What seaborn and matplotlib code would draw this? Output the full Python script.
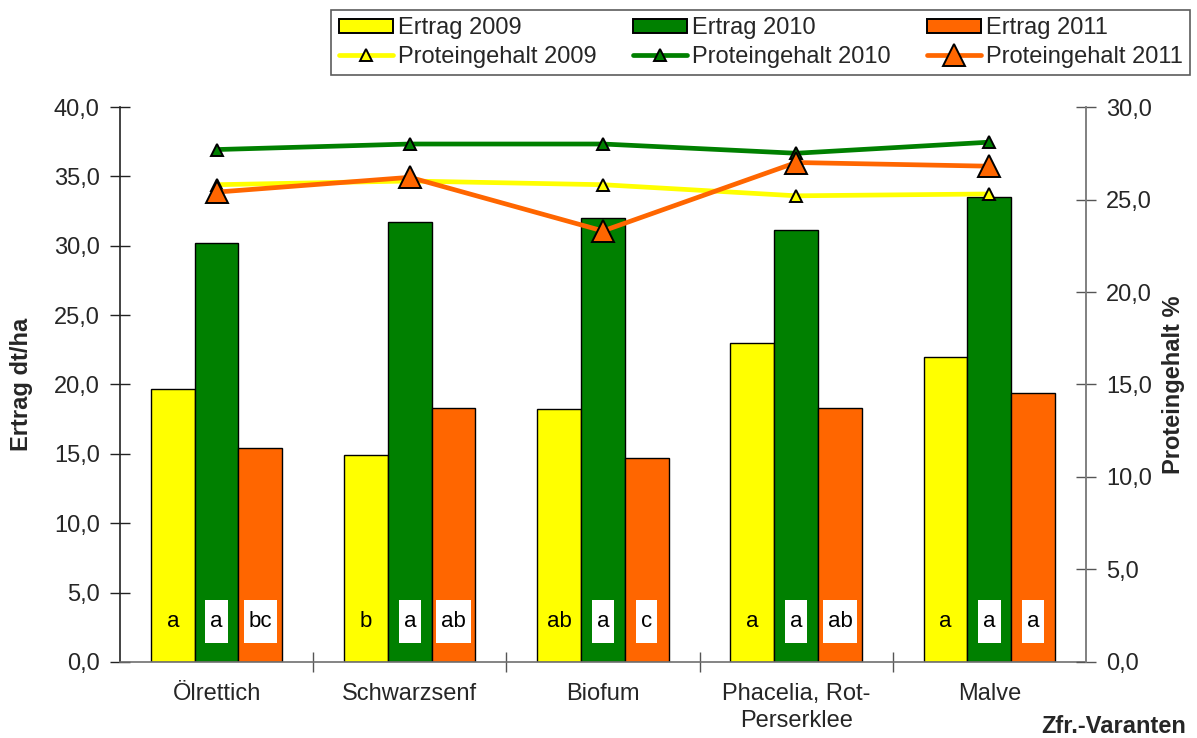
import numpy as np
import pandas as pd
import matplotlib
matplotlib.use("Agg")
import matplotlib.pyplot as plt
from matplotlib.lines import Line2D
from matplotlib.patches import Patch
from matplotlib.path import Path
import seaborn as sns

# --- data -------------------------------------------------------------
varianten = ["Ölrettich", "Schwarzsenf", "Biofum", "Phacelia, Rot-\nPerserklee", "Malve"]
jahre = ["2009", "2010", "2011"]

ertrag_2009 = [19.7, 14.9, 18.2, 23.0, 22.0]
ertrag_2010 = [30.2, 31.7, 32.0, 31.1, 33.5]
ertrag_2011 = [15.4, 18.3, 14.7, 18.3, 19.4]

protein_2009 = [25.8, 26.0, 25.8, 25.2, 25.3]
protein_2010 = [27.7, 28.0, 28.0, 27.5, 28.1]
protein_2011 = [25.4, 26.2, 23.3, 27.0, 26.8]

buchstaben_2009 = ["a", "b", "ab", "a", "a"]
buchstaben_2010 = ["a", "a", "a", "a", "a"]
buchstaben_2011 = ["bc", "ab", "c", "ab", "a"]

farben = {"2009": "#FFFF00", "2010": "#008000", "2011": "#FF6600"}

ertrag = {"2009": ertrag_2009, "2010": ertrag_2010, "2011": ertrag_2011}
protein = {"2009": protein_2009, "2010": protein_2010, "2011": protein_2011}
buchstaben = {"2009": buchstaben_2009, "2010": buchstaben_2010, "2011": buchstaben_2011}

df = pd.DataFrame(
    [(v, j, ertrag[j][i]) for j in jahre for i, v in enumerate(varianten)],
    columns=["Variante", "Jahr", "Ertrag"],
)

# --- style ------------------------------------------------------------
sns.set_theme(style="white")
plt.rcParams["font.family"] = ["Liberation Sans", "DejaVu Sans"]
FS = 17
FS_LABEL = 16

fig = plt.figure(figsize=(11.97, 7.38), dpi=100)
ax = fig.add_axes([0.10025, 0.103, 0.807, 0.752])

sns.barplot(
    data=df, x="Variante", y="Ertrag", hue="Jahr", hue_order=jahre,
    palette=[farben[j] for j in jahre], width=0.68, gap=0,
    edgecolor="black", linewidth=1.0, saturation=1, legend=False, ax=ax,
)
ax.set_xlim(-0.5, len(varianten) - 0.5)
ax.set_ylim(0, 40)


# white label boxes, taller than wide as in spreadsheet charts
def label_box(x0, y0, width, height, mutation_size):
    px = 0.22 * mutation_size
    py = 0.5 * mutation_size
    x0, y0 = x0 - px, y0 - py
    x1, y1 = x0 + width + 2 * px, y0 + height + 2 * py
    return Path([(x0, y0), (x1, y0), (x1, y1), (x0, y1), (x0, y0)], closed=True)


for jahr, container in zip(jahre, ax.containers):
    for bar, txt in zip(container, buchstaben[jahr]):
        xc = bar.get_x() + bar.get_width() / 2
        if jahr == "2009":
            ax.text(xc, 2.9, txt, ha="center", va="center", fontsize=FS_LABEL, color="black")
        else:
            ax.text(xc, 2.9, txt, ha="center", va="center", fontsize=FS_LABEL, color="black",
                    bbox=dict(boxstyle=label_box, facecolor="white", edgecolor="none"))

# axes appearance
ax.spines["top"].set_visible(False)
ax.spines["left"].set_color("#222222")
ax.spines["bottom"].set_color("#707070")
ax.spines["right"].set_color("#808080")
for s in ["left", "bottom", "right"]:
    ax.spines[s].set_linewidth(1.2)

ax.set_yticks(np.arange(0, 41, 5))
ax.set_yticklabels([f"{v:.1f}".replace(".", ",") for v in np.arange(0, 41, 5)], fontsize=FS)
ax.tick_params(axis="y", direction="inout", length=15, width=1, color="#222222", left=True, pad=7)

ax.set_xticks(np.arange(0.5, len(varianten) - 0.5, 1))
ax.set_xticklabels([])
ax.set_xticks(np.arange(len(varianten)), minor=True)
ax.set_xticklabels(varianten, minor=True, fontsize=FS, linespacing=1.3)
ax.tick_params(axis="x", which="major", direction="inout", length=14, width=1,
               color="#555555", bottom=True)
ax.tick_params(axis="x", which="minor", length=0, pad=15, bottom=True)
ax.set_xlabel("")
ax.set_ylabel("Ertrag dt/ha", fontsize=FS, fontweight="bold", labelpad=15)

# protein lines on the secondary axis
ax2 = ax.twinx()
marker_groessen = {"2009": 8.5, "2010": 8.5, "2011": 16}
for jahr in jahre:
    sns.lineplot(
        x=np.arange(len(varianten)), y=protein[jahr], ax=ax2,
        color=farben[jahr], linewidth=3.4, marker="^",
        markersize=marker_groessen[jahr], markeredgecolor="black",
        markeredgewidth=1.4, markerfacecolor=farben[jahr],
    )
ax2.set_ylim(0, 30)
ax2.set_xlim(-0.5, len(varianten) - 0.5)
ax2.set_yticks(np.arange(0, 31, 5))
ax2.set_yticklabels([f"{v:.1f}".replace(".", ",") for v in np.arange(0, 31, 5)], fontsize=FS)
ax2.tick_params(axis="y", direction="inout", length=15, width=1, color="#555555", right=True, pad=7)
for s in ["top", "left", "bottom"]:
    ax2.spines[s].set_visible(False)
ax2.spines["right"].set_color("#808080")
ax2.spines["right"].set_linewidth(1.2)
ax2.set_ylabel("Proteingehalt %", fontsize=FS, fontweight="bold", labelpad=7)
ax2.set_xlabel("")

fig.text(0.9307, 0.016, "Zfr.-Varanten", fontsize=FS, fontweight="bold", ha="center", va="center")

# legend
handles, labels = [], []
for jahr in jahre:
    handles.append(Patch(facecolor=farben[jahr], edgecolor="black", linewidth=1.4))
    labels.append(f"Ertrag {jahr}")
    handles.append(Line2D([], [], color=farben[jahr], linewidth=3.4, marker="^",
                          markersize=marker_groessen[jahr], markeredgecolor="black",
                          markeredgewidth=1.4, markerfacecolor=farben[jahr]))
    labels.append(f"Proteingehalt {jahr}")

leg = fig.legend(
    handles, labels, ncol=3, loc="upper right", bbox_to_anchor=(0.9942, 0.9864),
    fontsize=FS, frameon=True, fancybox=False, edgecolor="#333333",
    handlelength=2.3, handleheight=0.55, handletextpad=0.2, columnspacing=1.55,
    labelspacing=0.3, borderpad=0.3, borderaxespad=0,
)
leg.get_frame().set_linewidth(1.2)

fig.savefig("out.png", dpi=100)
